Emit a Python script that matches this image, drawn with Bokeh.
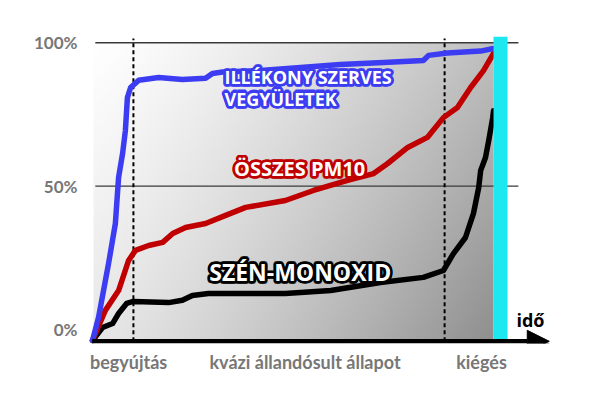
import numpy as np
from bokeh.plotting import figure
from bokeh.models import Range1d, FixedTicker, Arrow, NormalHead
from bokeh.core.properties import value
from bokeh.embed import file_html
from bokeh.resources import INLINE

# ---- data (time in arbitrary units: 0 = ignition, 100 = end of burn; values in %) ----
voc_t = [0, 1.5, 4.0, 5.7, 6.5, 7.5, 8.2, 8.7, 9.5, 11.5, 16.5, 22.4, 28.2, 29.9, 32.4,
         41.9, 51.9, 61.8, 72.6, 82.5, 83.8, 88.5, 96.8, 100]
voc_v = [-3.8, 4.2, 23.0, 37.0, 53.0, 61.4, 69.4, 80.9, 84.4, 86.9, 87.9, 87.2, 87.6, 89.3, 89.8,
         90.3, 91.4, 92.4, 93.1, 93.8, 95.6, 96.4, 97.1, 98.0]

pm_t = [0, 3.2, 6.5, 9.0, 10.7, 14.0, 17.5, 20.0, 23.2, 28.2, 33.2, 38.2, 48.1, 55.1, 63.6,
        70.1, 73.6, 78.6, 83.5, 87.5, 91.0, 94.3, 97.5, 100]
pm_v = [-3.8, 6.7, 13.6, 24.1, 27.6, 29.3, 30.4, 33.5, 35.6, 37.0, 39.8, 42.6, 45.0, 48.5, 52.0,
        54.4, 57.9, 63.5, 67.0, 73.9, 77.4, 84.4, 90.3, 96.3]

co_t = [0, 2.5, 5.0, 6.5, 8.5, 10.2, 19.0, 22.4, 24.9, 28.9, 48.1, 59.4, 71.8, 82.5, 87.5,
        90.0, 93.0, 95.0, 96.3, 96.8, 98.0, 98.8, 99.8, 100]
co_v = [-3.8, 0.7, 2.1, 5.6, 9.1, 9.8, 9.4, 10.2, 11.9, 12.6, 12.6, 13.6, 16.4, 18.2, 20.6,
        26.5, 32.1, 40.5, 49.5, 55.5, 60.0, 65.9, 73.9, 76.3]

y_ticks = [0, 50, 100]
y_tick_labels = ["0%", "50%", "100%"]
x_ticks = [9, 53, 97]
x_tick_labels = ["begyújtás", "kvázi állandósult állapot", "kiégés"]
phase_bounds = [10.2, 87.8]
grid_levels = [50, 100]

voc_labels = ["ILLÉKONY SZERVES", "VEGYÜLETEK"]
pm_label = "ÖSSZES PM10"
co_label = "SZÉN-MONOXID"
axis_name = "idő"

BASE = -4.1

p = figure(width=600, height=408, x_range=Range1d(-1.5, 116.7), y_range=Range1d(-4.86, 104.28),
           output_backend="svg", toolbar_location=None,
           min_border_left=86, min_border_right=40, min_border_top=30, min_border_bottom=65)
p.outline_line_color = None
p.background_fill_color = "white"
p.border_fill_color = "white"
p.xgrid.visible = False
p.ygrid.visible = False

# background gradient (white top-left -> grey bottom-right)
nx, ny = 200, 120
GX, GY = np.meshgrid(np.linspace(0, 1, nx), np.linspace(0, 1, ny))   # GY=0 is bottom row
shade = 255 - 64 * GX**1.3 - 24 * (1 - GY) - 24 * GX * (1 - GY)
shade = np.clip(shade, 0, 255).astype(np.uint8)
img = np.empty((ny, nx), dtype=np.uint32)
view = img.view(dtype=np.uint8).reshape((ny, nx, 4))
view[:, :, 0] = shade
view[:, :, 1] = shade
view[:, :, 2] = shade
view[:, :, 3] = 255
p.image_rgba(image=[img], x=0.25, y=BASE, dw=99.75, dh=100 - BASE)

# gridlines
p.segment(x0=[0.7] * len(grid_levels), y0=grid_levels, x1=[106.2] * len(grid_levels), y1=grid_levels,
          line_color="#3a3a3a", line_width=1.3)

# phase separators
p.segment(x0=phase_bounds, y0=[BASE] * 2, x1=phase_bounds, y1=[101.5] * 2,
          line_color="black", line_width=2, line_dash="4 3")

# curves
p.line(co_t, co_v, line_color="black", line_width=5.5, line_join="round", line_cap="round")
p.line(pm_t, pm_v, line_color="#c00000", line_width=5.5, line_join="round", line_cap="round")
p.line(voc_t, voc_v, line_color="#3c3cf2", line_width=5.5, line_join="round", line_cap="round")

# end-of-burn marker
p.quad(left=[100], right=[103.5], bottom=[BASE], top=[102.1], fill_color="#1de7ef", line_color=None)

# time axis arrow
p.add_layout(Arrow(end=NormalHead(size=22, fill_color="black", line_color="black"),
                   x_start=-0.1, y_start=BASE, x_end=113.9, y_end=BASE,
                   line_color="black", line_width=4.5))

# axes
for ax in (p.xaxis[0], p.yaxis[0]):
    ax.axis_line_color = None
    ax.major_tick_line_color = None
    ax.minor_tick_line_color = None
    ax.major_label_text_font = "Lato"
    ax.major_label_text_font_style = "bold"
    ax.major_label_text_color = "#777777"
p.yaxis.ticker = FixedTicker(ticks=y_ticks)
p.yaxis.major_label_overrides = dict(zip(y_ticks, y_tick_labels))
p.yaxis.major_label_standoff = 3
p.yaxis.major_label_text_font_size = "17px"
p.xaxis.ticker = FixedTicker(ticks=x_ticks)
p.xaxis.major_label_overrides = dict(zip(x_ticks, x_tick_labels))
p.xaxis.major_label_standoff = 1
p.xaxis.major_label_text_font_size = "18px"


# series labels: white text with a thick coloured outline
def outlined(xs, ys, texts, size, color, r=2.2):
    n = len(texts)
    angs = np.linspace(0, 2 * np.pi, 12, endpoint=False)
    ox = np.repeat(r * np.cos(angs), n)
    oy = np.repeat(r * np.sin(angs), n)
    p.text(x=list(xs) * len(angs), y=list(ys) * len(angs), text=list(texts) * len(angs),
           x_offset=list(ox), y_offset=list(oy), text_font=value("Open Sans"),
           text_font_style="bold", text_font_size=size, text_color=color,
           text_outline_color=color, text_align="left", text_baseline="middle")
    p.text(x=xs, y=ys, text=texts, text_font=value("Open Sans"),
           text_font_style="bold", text_font_size=size, text_color="white",
           text_align="left", text_baseline="middle")


outlined([32.9, 32.9], [88.0, 80.5], voc_labels, "18px", "#3c3cf2")
outlined([35.3], [56.1], [pm_label], "20px", "#c00000")
outlined([29.1], [20.0], [co_label], "23px", "black")

# axis name
p.text(x=[109.2], y=[3.3], text=[axis_name], text_font=value("Open Sans"), text_font_style="bold",
       text_font_size="18px", text_color="black", text_align="center", text_baseline="middle")

open("out.html", "w").write(file_html(p, INLINE))
